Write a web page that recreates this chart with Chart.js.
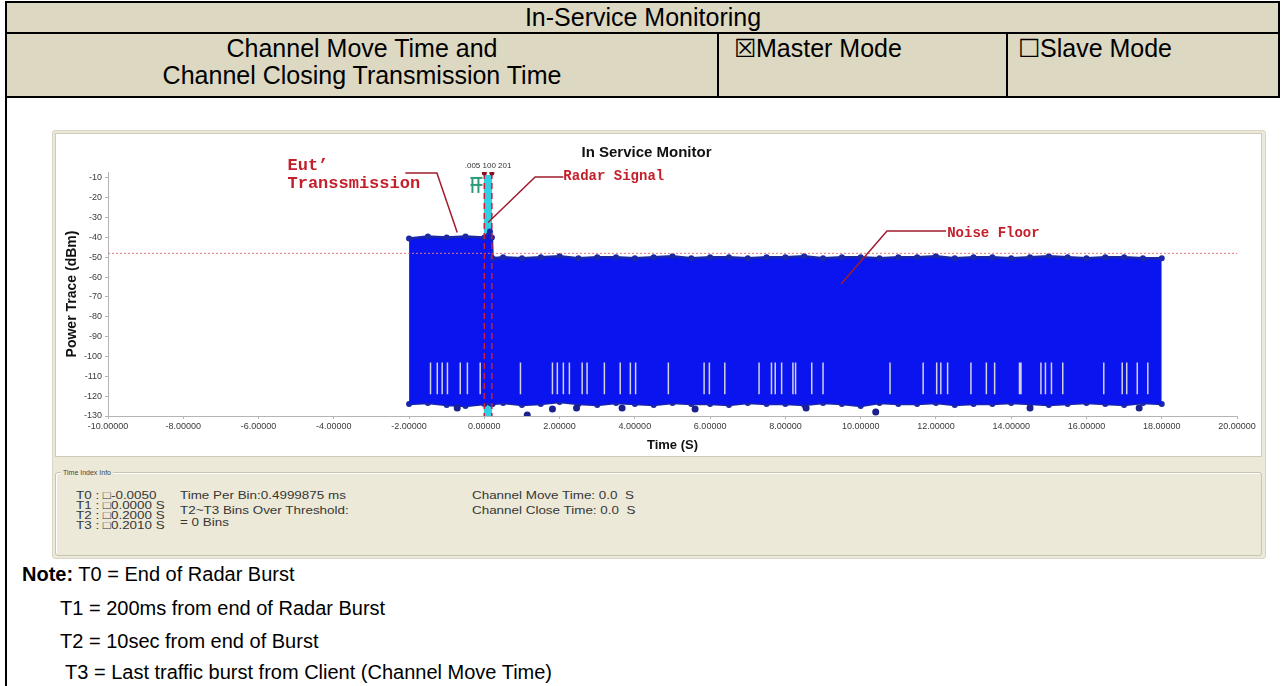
<!DOCTYPE html>
<html>
<head>
<meta charset="utf-8">
<script src="https://cdn.jsdelivr.net/npm/chart.js@4.4.1/dist/chart.umd.min.js"></script>
<style>
  body { margin: 0; width: 1282px; height: 686px; background: #fff; position: relative; overflow: hidden;
         font-family: Arial, "Liberation Sans", sans-serif; color: #000; }
  .abs { position: absolute; white-space: nowrap; }
  .bar { position: absolute; background: #000; }
  .cell { position: absolute; font-size: 25px; line-height: 26px; white-space: nowrap; }
  .info { position: absolute; font-size: 11px; line-height: 11px; color: #363636; white-space: nowrap;
          transform: scaleX(1.22); transform-origin: 0 0; }
  .note { position: absolute; font-size: 20px; line-height: 24px; white-space: nowrap; }
</style>
</head>
<body>

<!-- header table -->
<div class="abs" style="left:6px;top:2px;width:1274px;height:96px;background:#ddd8c2;"></div>
<div class="bar" style="left:6px;top:1px;width:1274px;height:2px;"></div>
<div class="bar" style="left:6px;top:32px;width:1274px;height:2px;"></div>
<div class="bar" style="left:6px;top:96px;width:1274px;height:2px;"></div>
<div class="bar" style="left:5px;top:1px;width:2px;height:685px;"></div>
<div class="bar" style="left:1278px;top:1px;width:2px;height:97px;"></div>
<div class="bar" style="left:717px;top:33px;width:2px;height:64px;"></div>
<div class="bar" style="left:1006px;top:33px;width:2px;height:64px;"></div>

<div class="cell" style="left:6px;width:1274px;top:4px;text-align:center;">In-Service Monitoring</div>
<div class="cell" style="left:7px;width:710px;top:35px;text-align:center;">Channel Move Time and</div>
<div class="cell" style="left:7px;width:710px;top:62px;text-align:center;">Channel Closing Transmission Time</div>
<div class="cell" style="left:734px;top:35px;">☒Master Mode</div>
<div class="cell" style="left:1018px;top:35px;">☐Slave Mode</div>

<!-- screenshot frame -->
<div class="abs" style="left:52px;top:130px;width:1212px;height:427px;background:#ece9d8;border:1px solid #d9d5c7;border-radius:3px;"></div>
<div class="abs" style="left:55px;top:133px;width:1205px;height:322px;background:#fff;border:1px solid #cfcabc;">
  <div style="position:relative;width:1205px;height:322px;"><canvas id="ismChart"></canvas></div>
</div>
<div class="abs" style="left:55px;top:472px;width:1205px;height:82px;border:1px solid #c9c4b2;border-radius:3px;box-shadow:inset 1px 1px 0 #fff;"></div>
<div class="abs" style="left:61px;top:468px;font-size:7px;line-height:9px;padding:0 2px;background:#ece9d8;color:#444;">Time Index Info</div>

<div class="info" style="left:76px;top:490px;">T0 : □-0.0050</div>
<div class="info" style="left:76px;top:500px;">T1 : □0.0000 S</div>
<div class="info" style="left:76px;top:510px;">T2 : □0.2000 S</div>
<div class="info" style="left:76px;top:520px;">T3 : □0.2010 S</div>
<div class="info" style="left:180px;top:490px;">Time Per Bin:0.4999875 ms</div>
<div class="info" style="left:180px;top:505px;">T2~T3 Bins Over Threshold:</div>
<div class="info" style="left:180px;top:517px;">= 0 Bins</div>
<div class="info" style="left:472px;top:490px;">Channel Move Time: 0.0&nbsp;&nbsp;S</div>
<div class="info" style="left:472px;top:505px;">Channel Close Time: 0.0&nbsp;&nbsp;S</div>

<!-- notes -->
<div class="note" style="left:22px;top:562px;"><b>Note:</b> T0 = End of Radar Burst</div>
<div class="note" style="left:60px;top:596px;">T1 = 200ms from end of Radar Burst</div>
<div class="note" style="left:60px;top:629px;">T2 = 10sec from end of Burst</div>
<div class="note" style="left:65px;top:660px;">T3 = Last traffic burst from Client (Channel Move Time)</div>

<script>
  // axis ticks
  const xTickValues = [-10, -8, -6, -4, -2, 0, 2, 4, 6, 8, 10, 12, 14, 16, 18, 20];
  const xTickLabels = ['-10.00000', '-8.00000', '-6.00000', '-4.00000', '-2.00000', '0.00000', '2.00000', '4.00000',
                       '6.00000', '8.00000', '10.00000', '12.00000', '14.00000', '16.00000', '18.00000', '20.00000'];
  const yTickValues = [-130, -120, -110, -100, -90, -80, -70, -60, -50, -40, -30, -20, -10];
  const yTickLabels = ['-130', '-120', '-110', '-100', '-90', '-80', '-70', '-60', '-50', '-40', '-30', '-20', '-10'];

  // power trace envelope (s, dBm)
  const envTimes = [-2.0, -1.5, -1.0, -0.5, 0.0, 0.15, 0.2, 0.22, 0.5, 1.0, 1.5,
                    2.0, 2.5, 3.0, 3.5, 4.0, 4.5, 5.0, 5.5, 6.0, 6.5, 7.0,
                    7.5, 8.0, 8.5, 9.0, 9.5, 10.0, 10.5, 11.0, 11.5, 12.0, 12.5,
                    13.0, 13.5, 14.0, 14.5, 15.0, 15.5, 16.0, 16.5, 17.0, 17.5, 18.0];
  const envTop = [-40.5, -39.5, -40, -39.5, -40, -37, -40, -50.5, -50, -50.5, -50,
                  -49.5, -50.5, -50, -50, -50.5, -50, -49.5, -50.5, -50, -50, -50.5,
                  -50, -50, -49.5, -50.5, -50, -50, -50.5, -50, -50, -49.5, -50.5,
                  -50, -50, -50.5, -50, -49.5, -50, -50.5, -50, -50, -50.5, -50.5];
  const envBottom = [-124, -123.5, -124.5, -125, -124, -123.5, -124, -124, -123.5, -124.5, -124,
                     -123, -124, -124.5, -123.5, -124, -124.5, -123.5, -124, -124, -124.5, -123.5,
                     -124, -124, -124.5, -123.5, -124, -125, -123.5, -124, -124, -123.5, -124.5,
                     -124, -124, -123.5, -124, -124.5, -124, -123.5, -124, -124.5, -123.5, -124];

  // stray low samples under the band
  const strayTimes = [-0.72, 1.14, 1.81, 2.45, 3.66, 5.6, 8.55, 10.4, 14.5, 17.4];
  const strayPower = [-126, -129.5, -126.5, -126, -126, -126.5, -126, -128, -126, -126];

  // empty bins showing as light vertical streaks
  const gapTimes = [-1.43, -1.25, -1.12, -0.98, -0.64, -0.45, -0.11, 0.96, 1.81, 1.94, 2.10, 2.26, 2.60,
                    2.73, 3.19, 3.61, 3.88, 4.02, 4.89, 5.84, 5.98, 6.39, 7.30, 7.63, 7.73, 7.90, 8.20,
                    8.27, 8.70, 9.00, 10.78, 11.66, 12.02, 12.13, 12.31, 12.93, 13.34, 13.56, 14.22,
                    14.26, 14.79, 14.91, 15.07, 15.37, 16.46, 16.95, 17.07, 17.35, 17.63];
  const gapRange = [-103, -119];

  const thresholdLevel = -48;
  const radarWindow = [-0.02, 0.21];
  const markerTimes = [0.0, 0.2];
  const greenMark = { x: -0.21, y: -13.5 };

  const callouts = [
    { lines: ['Eut’', 'Transsmission'], at: [-5.23, -3.9, -13.0], font: 'bold 17px "Liberation Mono", monospace',
      path: [[-2.1, -7.5], [-1.26, -7.5], [-0.72, -37.5]] },
    { lines: ['Radar Signal'], at: [2.1, -9.2], font: 'bold 14px "Liberation Mono", monospace',
      path: [[0.1, -32.5], [1.35, -9.5], [2.1, -9.5]] },
    { lines: ['Noise Floor'], at: [12.3, -38], font: 'bold 14px "Liberation Mono", monospace',
      path: [[9.48, -63.5], [10.7, -36.7], [12.27, -36.7]] }
  ];

  const toPts = (xs, ys) => xs.map((x, i) => ({ x: x, y: ys[i] }));

  const gapPts = [];
  gapTimes.forEach(t => {
    gapPts.push({ x: t, y: gapRange[0] }, { x: t, y: gapRange[1] }, { x: t, y: null });
  });

  const markerPts = [];
  markerTimes.forEach(t => {
    markerPts.push({ x: t, y: -7.5 }, { x: t, y: -130 }, { x: t, y: null });
  });

  // little green cursor glyph
  const glyph = document.createElement('canvas');
  glyph.width = 14; glyph.height = 18;
  const g = glyph.getContext('2d');
  g.strokeStyle = '#2f9a7a'; g.lineWidth = 2;
  g.beginPath();
  g.moveTo(1, 2); g.lineTo(13, 2);
  g.moveTo(3, 2); g.lineTo(3, 17);
  g.moveTo(9, 2); g.lineTo(9, 17);
  g.moveTo(1, 9); g.lineTo(13, 9);
  g.stroke();

  const calloutPlugin = {
    id: 'callouts',
    afterDatasetsDraw(chart) {
      const { ctx, scales: { x, y } } = chart;
      ctx.save();
      callouts.forEach(c => {
        ctx.strokeStyle = '#a01c2e';
        ctx.lineWidth = 1.5;
        ctx.beginPath();
        c.path.forEach((p, i) => {
          const px = x.getPixelForValue(p[0]), py = y.getPixelForValue(p[1]);
          if (i) ctx.lineTo(px, py); else ctx.moveTo(px, py);
        });
        ctx.stroke();
        ctx.fillStyle = '#c4202c';
        ctx.font = c.font;
        ctx.textBaseline = 'middle';
        c.lines.forEach((s, i) => {
          ctx.fillText(s, x.getPixelForValue(c.at[0]), y.getPixelForValue(c.at[i + 1]));
        });
      });
      // bin labels over the markers
      ctx.fillStyle = '#333';
      ctx.font = '8px Arial, "Liberation Sans", sans-serif';
      ctx.textAlign = 'center';
      ctx.fillText('.005 100 201', x.getPixelForValue(0.1), y.getPixelForValue(-4));
      ctx.restore();
    }
  };

  Chart.defaults.font.family = 'Arial, "Liberation Sans", sans-serif';

  new Chart(document.getElementById('ismChart'), {
    type: 'line',
    data: {
      datasets: [
        { // radar signal window
          data: [{ x: radarWindow[0], y: -8.5 }, { x: radarWindow[1], y: -8.5 }],
          borderWidth: 0, pointRadius: 0, backgroundColor: '#33cfe0',
          fill: { value: -130 }, order: 9
        },
        { // top of trace
          data: toPts(envTimes, envTop),
          borderColor: '#1a28a8', borderWidth: 2.5, pointRadius: 3, pointBorderWidth: 0,
          pointBackgroundColor: '#1a28a8', backgroundColor: '#0a14ee', fill: '+1', order: 6
        },
        { // bottom of trace
          data: toPts(envTimes, envBottom),
          borderColor: '#1a28a8', borderWidth: 2.5, pointRadius: 3, pointBorderWidth: 0,
          pointBackgroundColor: '#1a28a8', fill: false, order: 6
        },
        {
          data: toPts(strayTimes, strayPower),
          showLine: false, pointRadius: 3.5, pointBorderWidth: 0, pointBackgroundColor: '#1a2090', order: 5
        },
        {
          data: gapPts,
          borderColor: '#d0d0e2', borderWidth: 1.5, pointRadius: 0, spanGaps: false, order: 4
        },
        {
          data: [{ x: -10, y: thresholdLevel }, { x: 20, y: thresholdLevel }],
          borderColor: '#dc7878', borderWidth: 1, borderDash: [2, 2], pointRadius: 0, order: 3
        },
        {
          data: markerPts,
          borderColor: '#c8203e', borderWidth: 1.5, borderDash: [6, 4], spanGaps: false,
          pointRadius: ctx => (ctx.dataIndex % 3 === 0 ? 2.5 : 0), pointBorderWidth: 0,
          pointBackgroundColor: '#8a1020', order: 2
        },
        {
          data: [greenMark], showLine: false, pointStyle: glyph, order: 1
        }
      ]
    },
    options: {
      responsive: true,
      maintainAspectRatio: false,
      animation: false,
      layout: { padding: { left: 0, right: 24, top: 0, bottom: 0 } },
      plugins: {
        legend: { display: false },
        tooltip: { enabled: false },
        title: {
          display: true, text: 'In Service Monitor', color: '#111',
          font: { size: 15, weight: 'bold' }, padding: { top: 10, bottom: 10 }
        }
      },
      scales: {
        x: {
          type: 'linear', min: -10, max: 20,
          afterBuildTicks: s => { s.ticks = xTickValues.map(v => ({ value: v })); },
          afterFit: s => { s.height = 40; },
          ticks: {
            autoSkip: false, maxRotation: 0, padding: 2, color: '#3a3a3a', font: { size: 9 },
            callback: v => xTickLabels[xTickValues.indexOf(v)]
          },
          grid: { drawOnChartArea: false, tickLength: 3, color: '#b4b4b4' },
          border: { color: '#b4b4b4' },
          title: { display: true, text: 'Time (S)', color: '#111', font: { size: 13, weight: 'bold' }, padding: { bottom: 3 } }
        },
        y: {
          min: -130, max: -7,
          afterBuildTicks: s => { s.ticks = yTickValues.map(v => ({ value: v })); },
          afterFit: s => { s.width = 52; },
          ticks: {
            padding: 3, color: '#3a3a3a', font: { size: 9 },
            callback: v => yTickLabels[yTickValues.indexOf(v)]
          },
          grid: { drawOnChartArea: false, tickLength: 3, color: '#b4b4b4' },
          border: { color: '#b4b4b4' },
          title: { display: true, text: 'Power Trace (dBm)', color: '#111', font: { size: 14, weight: 'bold' }, padding: { top: 8 } }
        }
      }
    },
    plugins: [calloutPlugin]
  });
</script>
</body>
</html>
